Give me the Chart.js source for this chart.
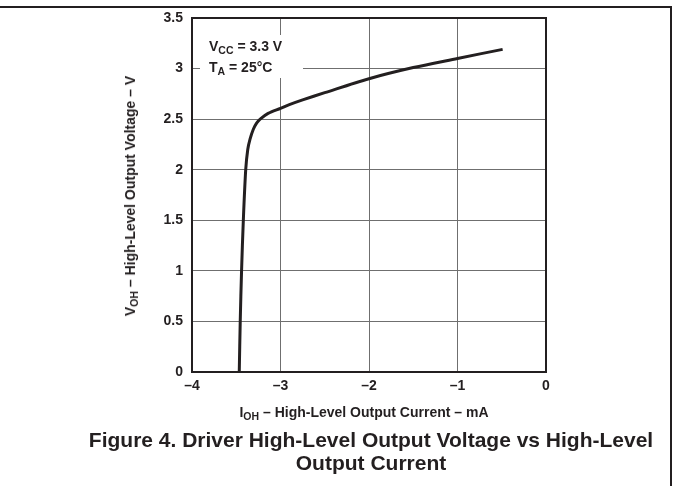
<!DOCTYPE html>
<html>
<head>
<meta charset="utf-8">
<script src="https://cdn.jsdelivr.net/npm/chart.js@4.4.1/dist/chart.umd.min.js"></script>
<style>
  html, body { margin: 0; padding: 0; background: #fff; }
  body { width: 673px; height: 486px; position: relative; overflow: hidden;
         font-family: "Liberation Sans", Arial, Helvetica, sans-serif; color: #231f20; }
  #wrap { position: absolute; left: 0; top: 0; width: 673px; height: 486px; }
  .frameTop { position: absolute; left: 0; top: 6px; width: 672px; height: 2px; background: #231f20; }
  .frameRight { position: absolute; left: 670px; top: 6px; width: 2px; height: 480px; background: #231f20; }
  .lbl { position: absolute; font-weight: bold; white-space: nowrap; }
  sub { font-size: 75%; vertical-align: -0.25em; line-height: 0; }
  #ytitle { font-size: 14px; left: 130px; top: 196px; transform: translate(-50%, -50%) rotate(-90deg); }
  #xtitle { font-size: 14px; left: 364px; top: 412px; transform: translate(-50%, -50%); }
  #cond { font-size: 14px; left: 209px; top: 36px; line-height: 21px; }
  #caption { position: absolute; left: 60px; width: 622px; top: 428px; text-align: center;
             font-size: 21px; font-weight: bold; line-height: 23px; }
</style>
</head>
<body>
<div id="wrap"><canvas id="c" width="673" height="486"></canvas></div>
<div class="frameTop"></div>
<div class="frameRight"></div>
<div class="lbl" id="ytitle">V<sub>OH</sub> – High-Level Output Voltage – V</div>
<div class="lbl" id="xtitle">I<sub>OH</sub> – High-Level Output Current – mA</div>
<div class="lbl" id="cond">V<sub>CC</sub> = 3.3 V<br>T<sub>A</sub> = 25°C</div>
<div id="caption">Figure 4. Driver High-Level Output Voltage vs High-Level<br>Output Current</div>
<script>
// Data
const currentMA = [-3.466, -3.455, -3.44, -3.42, -3.393, -3.37, -3.345, -3.307, -3.27, -3.23, -3.14, -3.0, -2.9, -2.75, -2.5, -2.0, -1.5, -1.0, -0.49];
const voltageV  = [0.0,    0.5,    1.0,   1.5,   2.0,    2.2,   2.3,    2.4,    2.46,  2.5,   2.557, 2.607, 2.643, 2.69, 2.762, 2.9, 3.01, 3.10, 3.19];

const xTickValues = [-4, -3, -2, -1, 0];
const xTickLabels = ['–4', '–3', '–2', '–1', '0'];
const yTickValues = [0, 0.5, 1, 1.5, 2, 2.5, 3, 3.5];
const yTickLabels = ['0', '0.5', '1', '1.5', '2', '2.5', '3', '3.5'];

const points = currentMA.map((x, i) => ({ x: x, y: voltageV[i] }));

const framePlugin = {
  id: 'framePlugin',
  beforeDatasetsDraw(chart) {
    const ctx = chart.ctx, a = chart.chartArea;
    ctx.save();
    ctx.fillStyle = '#ffffff';
    ctx.fillRect(a.left + 8, a.top + 17, 103, 43);
    ctx.restore();
  },
  afterDraw(chart) {
    const ctx = chart.ctx, a = chart.chartArea;
    ctx.save();
    ctx.strokeStyle = '#231f20';
    ctx.lineWidth = 2;
    ctx.strokeRect(a.left, a.top, a.right - a.left, a.bottom - a.top);
    ctx.restore();
  }
};

const tickFont = { family: '"Liberation Sans", Arial, sans-serif', size: 14, weight: 'bold' };

new Chart(document.getElementById('c'), {
  type: 'line',
  data: {
    datasets: [{
      data: points,
      borderColor: '#231f20',
      borderWidth: 3,
      pointRadius: 0,
      fill: false,
      tension: 0.3
    }]
  },
  options: {
    responsive: false,
    animation: false,
    events: [],
    layout: { padding: { left: 152, top: 18, right: 127, bottom: 84 } },
    plugins: { legend: { display: false }, tooltip: { enabled: false } },
    scales: {
      x: {
        type: 'linear',
        min: -4, max: 0,
        afterFit(s) { s.height = 30; },
        afterBuildTicks(s) { s.ticks = xTickValues.map(v => ({ value: v })); },
        ticks: {
          color: '#231f20', font: tickFont, padding: 6, maxRotation: 0,
          callback: (v) => xTickLabels[xTickValues.indexOf(v)]
        },
        grid: { color: '#6f6f6f', lineWidth: 1, drawTicks: false },
        border: { display: false }
      },
      y: {
        type: 'linear',
        min: 0, max: 3.5,
        afterFit(s) { s.width = 40; },
        afterBuildTicks(s) { s.ticks = yTickValues.map(v => ({ value: v })); },
        ticks: {
          color: '#231f20', font: tickFont, padding: 9,
          callback: (v) => yTickLabels[yTickValues.indexOf(v)]
        },
        grid: { color: '#6f6f6f', lineWidth: 1, drawTicks: false },
        border: { display: false }
      }
    }
  },
  plugins: [framePlugin]
});
</script>
</body>
</html>
